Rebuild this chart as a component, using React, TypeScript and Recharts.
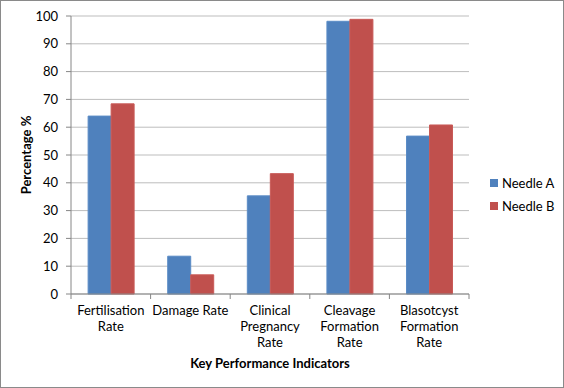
import React from "react";
import {
  BarChart,
  Bar,
  XAxis,
  YAxis,
  CartesianGrid,
} from "recharts";

const categories = [
  "Fertilisation Rate",
  "Damage Rate",
  "Clinical Pregnancy Rate",
  "Cleavage Formation Rate",
  "Blasotcyst Formation Rate",
];

const tickLines: string[][] = [
  ["Fertilisation", "Rate"],
  ["Damage Rate"],
  ["Clinical", "Pregnancy", "Rate"],
  ["Cleavage", "Formation", "Rate"],
  ["Blasotcyst", "Formation", "Rate"],
];

const needleA = [64, 13.6, 35.3, 98.1, 56.8];
const needleB = [68.4, 6.9, 43.3, 98.8, 60.8];

const yTicks = [0, 10, 20, 30, 40, 50, 60, 70, 80, 90, 100];

const FONT = "Lato, 'Liberation Sans', sans-serif";
const BLUE = "#4F81BD";
const RED = "#C0504D";
const AXIS = "#868686";
const GRID = "#BDBDBD";

const W = 564;
const H = 388;
const M = { top: 16, right: 95, bottom: 0, left: 0 };
const Y_W = 71;
const X_H = 94;
const BAND = (W - M.left - Y_W - M.right) / categories.length;

const data = categories.map((name, i) => ({
  name,
  a: needleA[i],
  b: needleB[i],
}));

const legendItems = [
  { label: "Needle A", color: BLUE },
  { label: "Needle B", color: RED },
];

function CategoryTick(props: any) {
  const { x, y, payload, index } = props;
  const i = payload.index ?? index;
  const lines = tickLines[i] || [payload.value];
  const isLast = i === categories.length - 1;
  return (
    <g>
      <line x1={x - BAND / 2} x2={x - BAND / 2} y1={y - 8} y2={y - 3} stroke={AXIS} />
      {isLast && (
        <line x1={x + BAND / 2} x2={x + BAND / 2} y1={y - 8} y2={y - 3} stroke={AXIS} />
      )}
      <text x={x} y={y + 13} textAnchor="middle" fontSize={13} fill="#000" fontFamily={FONT}>
        {lines.map((l, k) => (
          <tspan key={k} x={x} dy={k === 0 ? 0 : 16}>
            {l}
          </tspan>
        ))}
      </text>
    </g>
  );
}

export default function App() {
  return (
    <div
      style={{
        position: "fixed",
        left: 0,
        top: 0,
        width: W,
        height: H,
        boxSizing: "border-box",
        border: "1px solid #8a8a8a",
        background: "#fff",
      }}
    >
      <div style={{ position: "absolute", left: -1, top: -1 }}>
        <BarChart
          width={W}
          height={H}
          data={data}
          margin={M}
          barCategoryGap="21.5%"
          barGap={0}
        >
          <CartesianGrid vertical={false} stroke={GRID} strokeWidth={1} />
          <XAxis
            dataKey="name"
            height={X_H}
            interval={0}
            tickLine={false}
            axisLine={{ stroke: AXIS }}
            tick={<CategoryTick />}
            label={{
              value: "Key Performance Indicators",
              position: "insideBottom",
              offset: 20,
              style: { fontFamily: FONT, fontSize: 13, fontWeight: 700, fill: "#000" },
            }}
          />
          <YAxis
            width={Y_W}
            domain={[0, 100]}
            ticks={yTicks}
            interval={0}
            tickSize={5}
            tickMargin={8}
            tickLine={{ stroke: AXIS }}
            axisLine={{ stroke: AXIS }}
            tick={{ fontFamily: FONT, fontSize: 13, fill: "#000" }}
            label={{
              value: "Percentage %",
              angle: -90,
              position: "insideLeft",
              offset: 26,
              style: {
                fontFamily: FONT,
                fontSize: 13,
                fontWeight: 700,
                fill: "#000",
                textAnchor: "middle",
              },
            }}
          />
          <Bar dataKey="a" name="Needle A" fill={BLUE} stroke="#5B8CC6" isAnimationActive={false} />
          <Bar dataKey="b" name="Needle B" fill={RED} stroke="#C95A57" isAnimationActive={false} />
        </BarChart>
      </div>
      <div
        style={{
          position: "absolute",
          left: 489,
          top: 170,
          fontFamily: FONT,
          fontSize: 13,
        }}
      >
        {legendItems.map((it) => (
          <div key={it.label} style={{ display: "flex", alignItems: "center", height: 23 }}>
            <span
              style={{
                display: "inline-block",
                width: 8,
                height: 8,
                background: it.color,
                marginRight: 4,
              }}
            />
            <span>{it.label}</span>
          </div>
        ))}
      </div>
    </div>
  );
}
